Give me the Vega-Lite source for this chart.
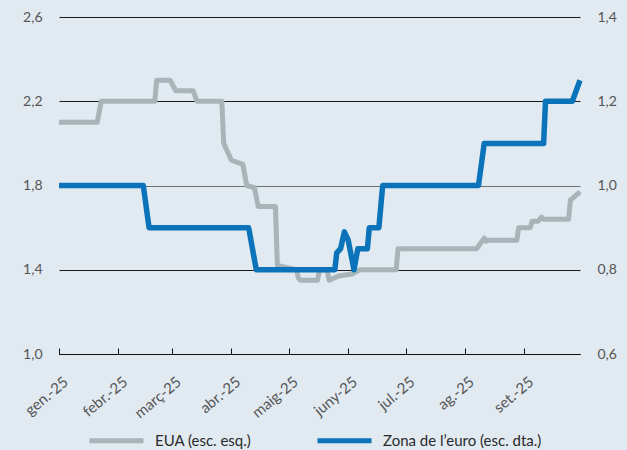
{
  "$schema": "https://vega.github.io/schema/vega-lite/v6.json",
  "width": 521,
  "height": 337,
  "autosize": {"type": "none"},
  "padding": {"left": 59, "top": 17, "right": 47, "bottom": 96},
  "background": "#e1e9f1",
  "config": {
    "view": {"stroke": null},
    "font": "Lato",
    "axis": {"labelFont": "Lato", "labelColor": "#555555", "labelFontSize": 14},
    "legend": {"labelFont": "Lato", "labelFontSize": 15, "labelColor": "#2a2a2a"}
  },
  "datasets": {
    "eua": [
      {"date": "2025-01-01", "value": 2.10},
      {"date": "2025-01-21", "value": 2.10},
      {"date": "2025-01-23", "value": 2.20},
      {"date": "2025-02-20", "value": 2.20},
      {"date": "2025-02-21", "value": 2.30},
      {"date": "2025-02-28", "value": 2.30},
      {"date": "2025-03-03", "value": 2.25},
      {"date": "2025-03-12", "value": 2.25},
      {"date": "2025-03-14", "value": 2.20},
      {"date": "2025-03-27", "value": 2.20},
      {"date": "2025-03-28", "value": 2.00},
      {"date": "2025-04-01", "value": 1.92},
      {"date": "2025-04-07", "value": 1.90},
      {"date": "2025-04-09", "value": 1.80},
      {"date": "2025-04-13", "value": 1.79},
      {"date": "2025-04-15", "value": 1.70},
      {"date": "2025-04-24", "value": 1.70},
      {"date": "2025-04-25", "value": 1.42},
      {"date": "2025-05-05", "value": 1.40},
      {"date": "2025-05-06", "value": 1.36},
      {"date": "2025-05-07", "value": 1.35},
      {"date": "2025-05-16", "value": 1.35},
      {"date": "2025-05-17", "value": 1.40},
      {"date": "2025-05-21", "value": 1.40},
      {"date": "2025-05-22", "value": 1.35},
      {"date": "2025-05-27", "value": 1.37},
      {"date": "2025-06-03", "value": 1.38},
      {"date": "2025-06-07", "value": 1.40},
      {"date": "2025-06-26", "value": 1.40},
      {"date": "2025-06-27", "value": 1.50},
      {"date": "2025-08-07", "value": 1.50},
      {"date": "2025-08-11", "value": 1.55},
      {"date": "2025-08-12", "value": 1.535},
      {"date": "2025-08-13", "value": 1.54},
      {"date": "2025-08-28", "value": 1.54},
      {"date": "2025-08-29", "value": 1.60},
      {"date": "2025-09-04", "value": 1.60},
      {"date": "2025-09-05", "value": 1.63},
      {"date": "2025-09-08", "value": 1.63},
      {"date": "2025-09-10", "value": 1.65},
      {"date": "2025-09-11", "value": 1.64},
      {"date": "2025-09-24", "value": 1.64},
      {"date": "2025-09-25", "value": 1.73},
      {"date": "2025-09-30", "value": 1.77}
    ],
    "ze": [
      {"date": "2025-01-01", "value": 1.0},
      {"date": "2025-02-14", "value": 1.0},
      {"date": "2025-02-17", "value": 0.9},
      {"date": "2025-04-10", "value": 0.9},
      {"date": "2025-04-14", "value": 0.8},
      {"date": "2025-05-25", "value": 0.8},
      {"date": "2025-05-26", "value": 0.84},
      {"date": "2025-05-28", "value": 0.85},
      {"date": "2025-05-30", "value": 0.89},
      {"date": "2025-06-01", "value": 0.87},
      {"date": "2025-06-04", "value": 0.80},
      {"date": "2025-06-06", "value": 0.85},
      {"date": "2025-06-11", "value": 0.85},
      {"date": "2025-06-12", "value": 0.90},
      {"date": "2025-06-17", "value": 0.90},
      {"date": "2025-06-18", "value": 0.95},
      {"date": "2025-06-19", "value": 1.0},
      {"date": "2025-08-08", "value": 1.0},
      {"date": "2025-08-11", "value": 1.1},
      {"date": "2025-09-11", "value": 1.1},
      {"date": "2025-09-12", "value": 1.2},
      {"date": "2025-09-26", "value": 1.2},
      {"date": "2025-09-30", "value": 1.25}
    ]
  },
  "encoding": {
    "x": {
      "field": "date",
      "type": "temporal",
      "scale": {"type": "utc", "domain": [{"year": 2025, "month": 1, "date": 1, "utc": true}, {"year": 2025, "month": 9, "date": 30, "utc": true}]},
      "axis": {
        "title": null,
        "values": [
          {"year": 2025, "month": 1, "date": 1, "utc": true},
          {"year": 2025, "month": 2, "date": 1, "utc": true},
          {"year": 2025, "month": 3, "date": 1, "utc": true},
          {"year": 2025, "month": 4, "date": 1, "utc": true},
          {"year": 2025, "month": 5, "date": 1, "utc": true},
          {"year": 2025, "month": 6, "date": 1, "utc": true},
          {"year": 2025, "month": 7, "date": 1, "utc": true},
          {"year": 2025, "month": 8, "date": 1, "utc": true},
          {"year": 2025, "month": 9, "date": 1, "utc": true}
        ],
        "labelExpr": "['gen.','febr.','març','abr.','maig','juny','jul.','ag.','set.','oct.','nov.','des.'][utcmonth(datum.value)] + '-25'",
        "labelAngle": -40,
        "labelAlign": "right",
        "labelBaseline": "top",
        "labelFontSize": 15,
        "labelPadding": 26,
        "labelOffset": 2,
        "domainColor": "#111111",
        "domainWidth": 1,
        "tickColor": "#111111",
        "tickSize": -6,
        "grid": false
      }
    }
  },
  "layer": [
    {
      "data": {"name": "eua"},
      "mark": {"type": "line", "strokeWidth": 5, "strokeJoin": "round", "strokeCap": "butt"},
      "encoding": {
        "y": {
          "field": "value",
          "type": "quantitative",
          "scale": {"domain": [1.0, 2.6], "nice": false, "zero": false},
          "axis": {
            "title": null,
            "orient": "left",
            "values": [1.0, 1.4, 1.8, 2.2, 2.6],
            "labelExpr": "replace(format(datum.value, '.1f'), '.', ',')",
            "domain": false,
            "ticks": false,
            "labelPadding": 17,
            "grid": true,
            "gridWidth": 1,
            "gridColor": {"condition": {"test": "datum.value == 1.8", "value": "#6f7173"}, "value": "#1a1a1a"}
          }
        },
        "color": {
          "datum": "EUA (esc. esq.)",
          "scale": {"domain": ["EUA (esc. esq.)", "Zona de l’euro (esc. dta.)"], "range": ["#a7b5b9", "#0b73ba"]},
          "legend": {
            "title": null,
            "orient": "none",
            "direction": "horizontal",
            "legendX": 28,
            "legendY": 394,
            "symbolType": "stroke",
            "symbolSize": 2916,
            "symbolStrokeWidth": 5,
            "labelOffset": 9,
            "columnPadding": 55
          }
        }
      }
    },
    {
      "data": {"name": "ze"},
      "mark": {"type": "line", "strokeWidth": 5.5, "strokeJoin": "round", "strokeCap": "butt"},
      "encoding": {
        "y": {
          "field": "value",
          "type": "quantitative",
          "scale": {"domain": [0.6, 1.4], "nice": false, "zero": false},
          "axis": {
            "title": null,
            "orient": "right",
            "values": [0.6, 0.8, 1.0, 1.2, 1.4],
            "labelExpr": "replace(format(datum.value, '.1f'), '.', ',')",
            "domain": false,
            "ticks": false,
            "labelPadding": 17,
            "grid": false
          }
        },
        "color": {"datum": "Zona de l’euro (esc. dta.)"}
      }
    }
  ],
  "resolve": {"scale": {"y": "independent"}}
}
